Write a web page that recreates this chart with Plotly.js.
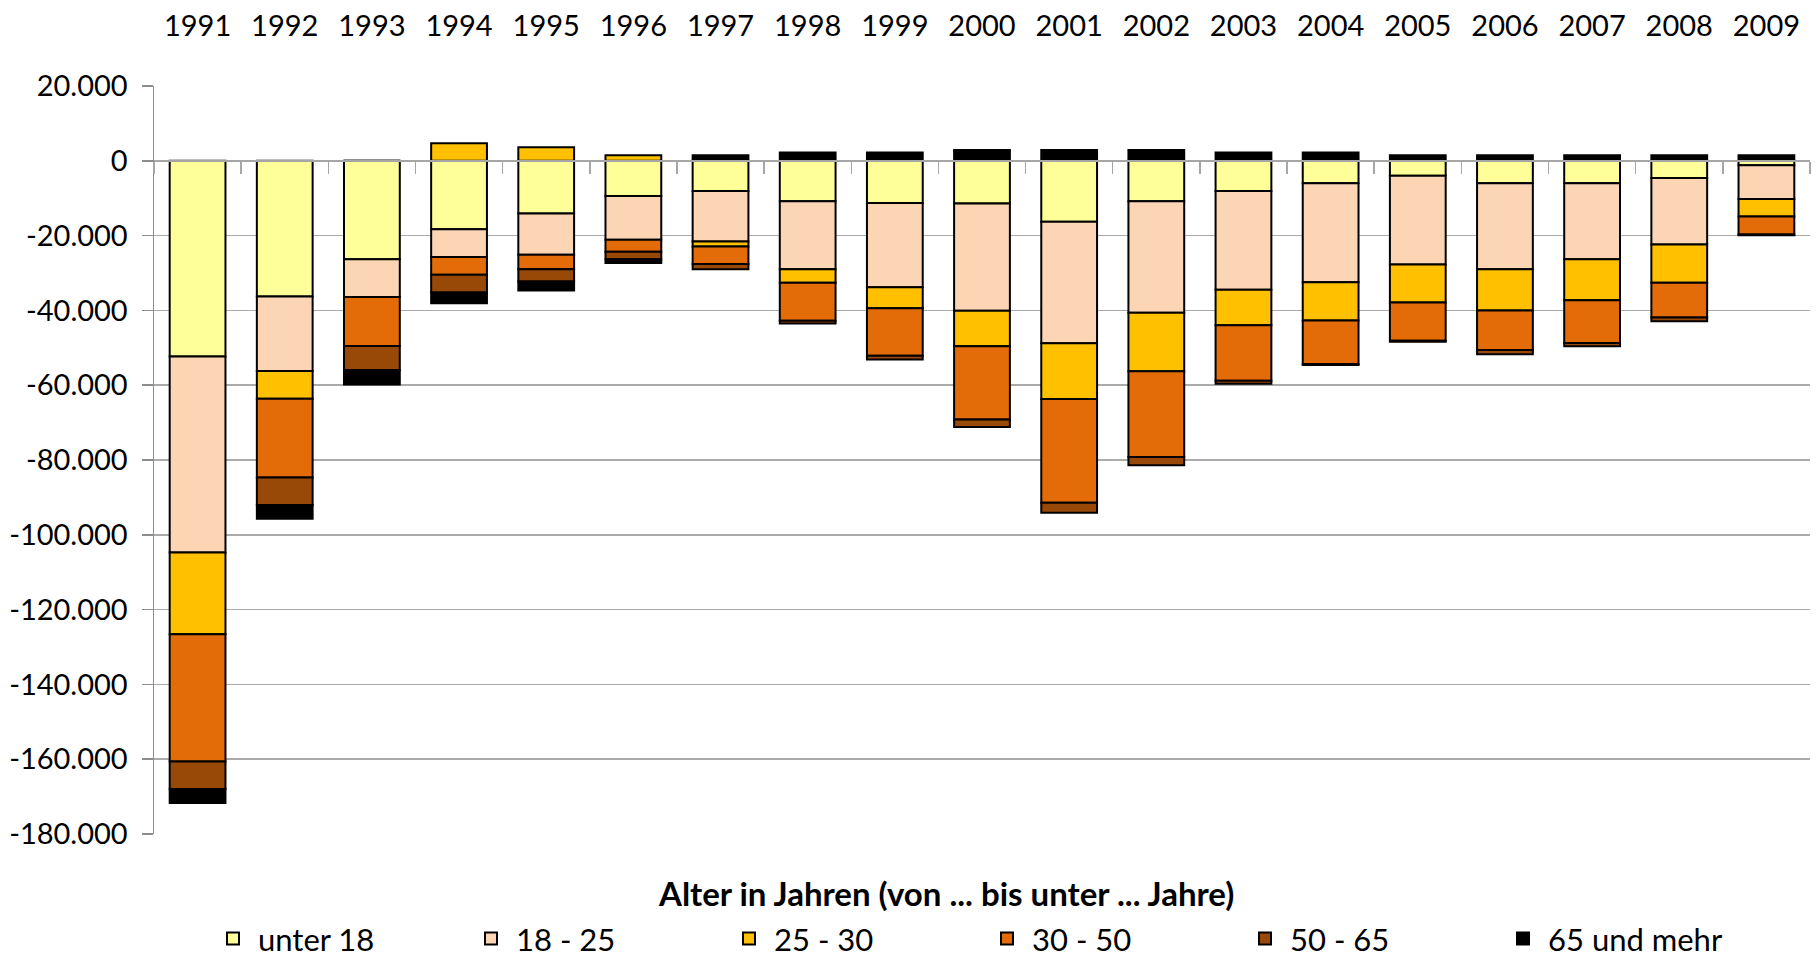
<!DOCTYPE html>
<html>
<head>
<meta charset="utf-8">
<script src="https://cdn.plot.ly/plotly-3.0.1.min.js"></script>
<style>
  html, body { margin: 0; padding: 0; background: #ffffff; }
  #chart { width: 1818px; height: 958px; }
</style>
</head>
<body>
<div id="chart"></div>
<script>
// Categories (years)
const years = ["1991","1992","1993","1994","1995","1996","1997","1998","1999","2000",
               "2001","2002","2003","2004","2005","2006","2007","2008","2009"];

// Series values (persons)
const unter18 = [-52300,-36300,-26300,-18300,-14100,-9400,-8100,-10800,-11300,-11400,
                 -16300,-10800,-8100,-6000,-4000,-6000,-6000,-4600,-1200];
const a18_25  = [-52400,-19900,-10100,-7400,-11000,-11700,-13500,-18200,-22500,-28700,
                 -32500,-29800,-26400,-26500,-23700,-23000,-20300,-17800,-9000];
const a25_30  = [-21900,-7400,0,4700,3600,1500,-1300,-3600,-5600,-9500,
                 -14900,-15700,-9500,-10200,-10200,-11000,-11000,-10200,-4700];
const a30_50  = [-34000,-21100,-13100,-4800,-3900,-3200,-4700,-10200,-12700,-19600,
                 -27700,-22900,-14800,-11600,-10200,-10600,-11400,-9300,-4800];
const a50_65  = [-7400,-7300,-6500,-4700,-3300,-2000,-1400,-700,-1000,-2000,
                 -2700,-2200,-800,-300,-300,-1100,-900,-1000,-200];
const a65plus = [-3700,-3700,-3800,-2900,-2400,-1000,1500,2200,2200,2900,
                 2900,2900,2200,2200,1500,1500,1500,1500,1500];

const seriesNames = ["unter 18","18 - 25","25 - 30","30 - 50","50 - 65","65 und mehr"];
const seriesData  = [unter18, a18_25, a25_30, a30_50, a50_65, a65plus];
const seriesColors = ["#FFFF99","#FCD5B5","#FFC000","#E36C09","#984807","#000000"];

// Y tick labels
const yTickVals = [20000,0,-20000,-40000,-60000,-80000,-100000,-120000,-140000,-160000,-180000];
const yTickText = ["20.000","0","-20.000","-40.000","-60.000","-80.000","-100.000","-120.000","-140.000","-160.000","-180.000"];

const legendTitle = "Alter in Jahren (von ... bis unter ... Jahre)";

const FONT = "Lato, 'Open Sans', sans-serif";
const FS = 29;

const traces = seriesNames.map((name, i) => ({
  type: "bar",
  name: name,
  x: years,
  y: seriesData[i],
  marker: { color: seriesColors[i], line: { color: "#000000", width: 2 } },
  hoverinfo: "x+y+name"
}));

// Boundary positions between categories for the tick marks on the zero line
const boundaryTicks = [];
for (let k = 0; k <= years.length; k++) boundaryTicks.push(k - 0.5);

const layout = {
  width: 1818,
  height: 958,
  paper_bgcolor: "#ffffff",
  plot_bgcolor: "#ffffff",
  barmode: "relative",
  bargap: 0.36,
  margin: { l: 154, r: 8, t: 86, b: 124 },
  font: { family: FONT, size: FS, color: "#000000" },
  xaxis: {
    type: "category",
    side: "top",
    showgrid: false,
    showline: false,
    ticks: "",
    ticklabelstandoff: 43,
    tickfont: { family: FONT, size: FS, color: "#000000" },
    fixedrange: true
  },
  xaxis2: {
    overlaying: "x",
    anchor: "free",
    position: 0.9,
    side: "bottom",
    type: "linear",
    range: [-0.5, years.length - 0.5],
    tickvals: boundaryTicks,
    showticklabels: false,
    ticks: "outside",
    ticklen: 12,
    tickwidth: 1.5,
    tickcolor: "#A6A6A6",
    showline: true,
    linecolor: "#A6A6A6",
    linewidth: 2,
    showgrid: false,
    zeroline: false,
    layer: "above traces",
    fixedrange: true
  },
  yaxis: {
    range: [-180000, 20000],
    tickvals: yTickVals,
    ticktext: yTickText,
    showgrid: true,
    gridcolor: "#ABABAB",
    gridwidth: 1.5,
    zeroline: false,
    showline: true,
    linecolor: "#8C8C8C",
    linewidth: 1.5,
    ticks: "outside",
    ticklen: 11,
    tickwidth: 1.5,
    tickcolor: "#8C8C8C",
    ticklabelstandoff: 8,
    tickfont: { family: FONT, size: FS, color: "#000000" },
    fixedrange: true
  },
  showlegend: true,
  legend: {
    orientation: "h",
    xref: "paper",
    x: 0.0326,
    xanchor: "left",
    yref: "container",
    y: 0.02,
    yanchor: "middle",
    traceorder: "normal",
    itemwidth: 40,
    entrywidth: 203,
    entrywidthmode: "pixels",
    font: { family: FONT, size: 31, color: "#000000" },
    bgcolor: "rgba(0,0,0,0)",
    itemclick: false,
    itemdoubleclick: false
  },
  annotations: [{
    text: "<b>" + legendTitle + "</b>",
    xref: "paper", yref: "paper",
    x: 0.478, y: -0.0789,
    xanchor: "center", yanchor: "middle",
    showarrow: false,
    font: { family: FONT, size: 33, color: "#000000" }
  }]
};

// invisible helper trace to activate xaxis2 (zero-line tick marks)
traces.push({
  type: "scatter", x: [0], y: [0], xaxis: "x2", yaxis: "y",
  mode: "markers", marker: { opacity: 0 }, showlegend: false, hoverinfo: "skip"
});

Plotly.newPlot("chart", traces, layout, { displayModeBar: false, staticPlot: true });
</script>
</body>
</html>
